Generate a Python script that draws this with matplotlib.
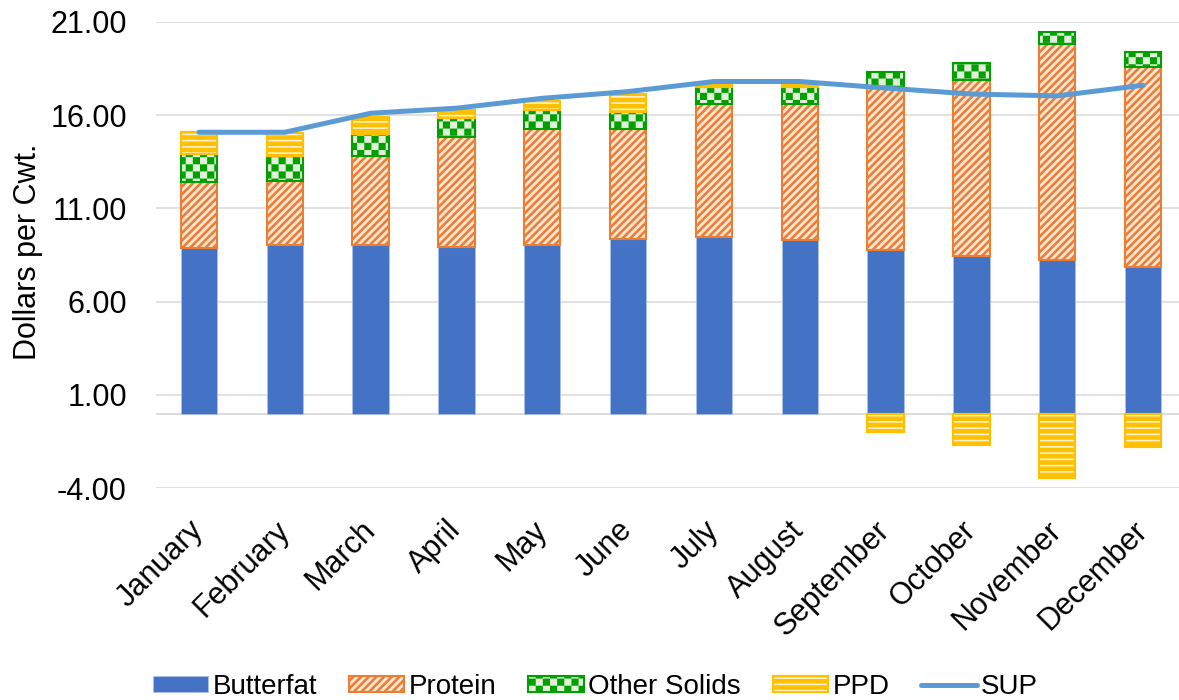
import numpy as np
import matplotlib
matplotlib.use("Agg")
import matplotlib.pyplot as plt
import matplotlib.hatch as mhatch
from matplotlib.path import Path
from matplotlib.legend_handler import HandlerTuple

# ---------------- data ----------------
months = ["January", "February", "March", "April", "May", "June", "July",
          "August", "September", "October", "November", "December"]
butterfat = [8.90, 9.02, 9.02, 8.95, 9.02, 9.38, 9.45, 9.31, 8.77, 8.45, 8.24, 7.88]
protein = [3.52, 3.47, 4.81, 5.89, 6.25, 5.88, 7.13, 7.27, 8.75, 9.43, 11.56, 10.72]
other_solids = [1.50, 1.34, 1.16, 1.02, 1.01, 0.93, 0.93, 0.94, 0.81, 0.90, 0.67, 0.80]
ppd = [1.20, 1.23, 0.89, 0.41, 0.49, 0.93, 0.10, 0.10, -1.00, -1.68, -3.46, -1.77]
sup = [15.08, 15.08, 16.10, 16.37, 16.90, 17.26, 17.80, 17.80, 17.45, 17.13, 17.03, 17.60]
yticks = [-4, 1, 6, 11, 16, 21]

# ---------------- style ----------------
HATCH_LW = 1.2  # points
plt.rcParams['hatch.linewidth'] = HATCH_LW
plt.rcParams['font.family'] = ['Liberation Sans', 'DejaVu Sans']
DPI = 100
STROKE_HALF = (HATCH_LW / 72.0 * DPI) / 2.0 / DPI  # half hatch stroke, hatch units


class _Checker(mhatch.HatchPatternBase):
    """Checkerboard hatch (bound to '.')."""
    def __init__(self, hatch, density):
        self.n = 14 if (hatch and '.' in hatch) else 0
        self.cells = []
        if self.n:
            for i in range(-1, self.n + 1):
                for j in range(-1, self.n + 1):
                    if (i + j) % 2 == 0:
                        self.cells.append((i, j))
        self.num_vertices = len(self.cells) * 5

    def set_vertices_and_codes(self, vertices, codes):
        s = 1.0 / self.n
        d = STROKE_HALF
        k = 0
        for i, j in self.cells:
            x0, y0 = i * s + d, j * s + d
            x1, y1 = (i + 1) * s - d, (j + 1) * s - d
            vertices[k:k + 5] = [(x0, y0), (x1, y0), (x1, y1), (x0, y1), (x0, y0)]
            codes[k:k + 5] = [Path.MOVETO, Path.LINETO, Path.LINETO,
                              Path.LINETO, Path.CLOSEPOLY]
            k += 5


class _HLines(mhatch.HatchPatternBase):
    """Horizontal lines, 16 per hatch unit (bound to '*')."""
    def __init__(self, hatch, density):
        self.n = 16 if (hatch and '*' in hatch) else 0
        self.num_vertices = self.n * 2

    def set_vertices_and_codes(self, vertices, codes):
        y = (np.arange(self.n) + 0.5) / self.n
        vertices[0::2, 0] = 0.0
        vertices[0::2, 1] = y
        vertices[1::2, 0] = 1.0
        vertices[1::2, 1] = y
        codes[0::2] = Path.MOVETO
        codes[1::2] = Path.LINETO


class _DiagBands(mhatch.HatchPatternBase):
    """Thick '/' stripes, 13 per hatch unit (bound to '/')."""
    def __init__(self, hatch, density):
        self.n = 13 if (hatch and '/' in hatch) else 0
        self.ks = list(range(-self.n - 1, self.n + 2)) if self.n else []
        self.num_vertices = len(self.ks) * 5

    def set_vertices_and_codes(self, vertices, codes):
        h = 0.0125
        k = 0
        for c in self.ks:
            o = c / self.n
            vertices[k:k + 5] = [(-0.1, -0.1 + o), (1.1, 1.1 + o), (1.1, 1.1 + o + h),
                                 (-0.1, -0.1 + o + h), (-0.1, -0.1 + o)]
            codes[k:k + 5] = [Path.MOVETO, Path.LINETO, Path.LINETO,
                              Path.LINETO, Path.CLOSEPOLY]
            k += 5


mhatch._hatch_types = [t for t in mhatch._hatch_types
                       if t not in (mhatch.SmallFilledCircles, mhatch.Stars,
                                    mhatch.NorthEastHatch)] + [_Checker, _HLines, _DiagBands]

C_BF = '#4472C4'
C_PROT = '#ED7D31'
C_PROT_FACE = '#FBE5D6'
C_OS = '#00A000'
C_OS_FACE = '#E2F0D9'
C_PPD = '#FFC000'
C_PPD_PALE = '#FFF2CC'
C_SUP = '#5B9BD5'
C_GRID = '#D9D9D9'

fig = plt.figure(figsize=(11.79, 7.0), dpi=DPI)
ax = fig.add_axes([156 / 1179, (700 - 488.3) / 700, 1030 / 1179, 466.5 / 700])

x = np.arange(len(months))
bf = np.array(butterfat)
pr = np.array(protein)
os_ = np.array(other_solids)
pp = np.array(ppd)
W = 0.425

b_bf = ax.bar(x, bf, W, color=C_BF, edgecolor='#AFC3E8', linewidth=0.5, zorder=3)
b_pr = ax.bar(x, pr, W, bottom=bf, facecolor=C_PROT_FACE, edgecolor=C_PROT,
              linewidth=1.5, hatch='/', zorder=3)
b_os = ax.bar(x, os_, W, bottom=bf + pr, facecolor=C_OS_FACE, edgecolor=C_OS,
              linewidth=1.5, hatch='.', zorder=3)
ppd_bottom = np.where(pp >= 0, bf + pr + os_, 0.0)
b_pp1 = ax.bar(x, pp, W, bottom=ppd_bottom, facecolor=C_PPD, edgecolor=C_PPD,
               linewidth=1.5, zorder=3)
b_pp2 = ax.bar(x, pp, W, bottom=ppd_bottom, facecolor='none', edgecolor=C_PPD_PALE,
               linewidth=0, hatch='*', zorder=3.1)
b_pp3 = ax.bar(x, pp, W, bottom=ppd_bottom, facecolor='none', edgecolor=C_PPD,
               linewidth=1.5, zorder=3.2)
l_sup, = ax.plot(x, sup, color=C_SUP, linewidth=3.6, solid_capstyle='round',
                 solid_joinstyle='round', zorder=5)

ax.set_xlim(-0.5, len(months) - 0.5)
ax.set_ylim(-4, 21)
ax.set_yticks(yticks)
ax.set_yticklabels([f"{v:.2f}" for v in yticks])
ax.yaxis.grid(True, color=C_GRID, linewidth=1.1, zorder=0)
ax.axhline(0, color=C_GRID, linewidth=1.3, zorder=1)
ax.set_axisbelow(True)
for s in ax.spines.values():
    s.set_visible(False)
ax.tick_params(axis='y', length=0, pad=21, labelsize=22, labelcolor='black')
ax.tick_params(axis='x', length=0, pad=27, labelsize=22, labelcolor='black')
ax.set_xticks(x)
ax.set_xticklabels(months, rotation=45, ha='right', va='center', rotation_mode='anchor')
ax.set_ylabel('Dollars per Cwt.', fontsize=22, color='black')
ax.yaxis.set_label_coords(-0.11, 0.5 + (255 - 252) / 466.5)

handles = [b_bf, b_pr, b_os, (b_pp1, b_pp2, b_pp3), l_sup]
labels = ['Butterfat', 'Protein', 'Other Solids', 'PPD', 'SUP']
fig.legend(handles, labels, loc='center', bbox_to_anchor=(0.505, 0.019), ncol=5,
           frameon=False, fontsize=20, handlelength=2.0, handleheight=0.55,
           handletextpad=0.15, columnspacing=1.15, borderaxespad=0,
           handler_map={tuple: HandlerTuple(ndivide=1, pad=0)})

fig.savefig('out.png', dpi=DPI)
